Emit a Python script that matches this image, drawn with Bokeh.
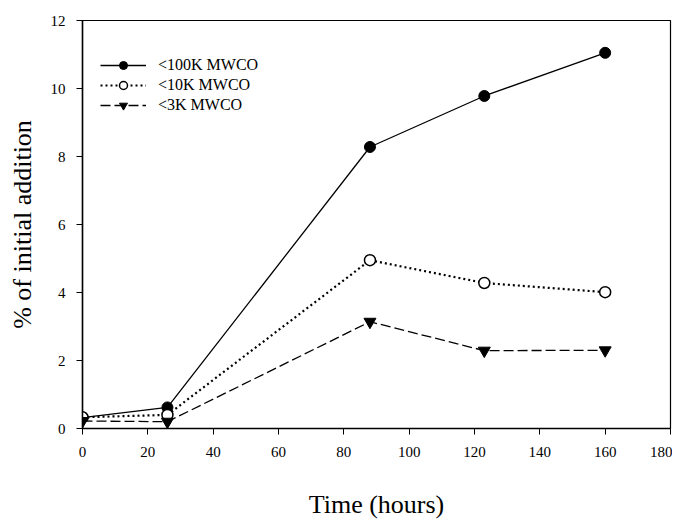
from bokeh.plotting import figure
from bokeh.models import Range1d, Legend, LegendItem, FixedTicker
from bokeh.embed import file_html
from bokeh.resources import INLINE

hours = [0, 26, 88, 123, 160]
mwco_100k = [0.32, 0.62, 8.28, 9.78, 11.05]
mwco_10k = [0.33, 0.40, 4.95, 4.28, 4.01]
mwco_3k = [0.22, 0.20, 3.14, 2.29, 2.30]
x_ticks = [0, 20, 40, 60, 80, 100, 120, 140, 160, 180]
y_ticks = [0, 2, 4, 6, 8, 10, 12]

FONT = "Liberation Serif"

p = figure(width=672, height=523, output_backend="svg", toolbar_location=None,
           x_range=Range1d(0, 180), y_range=Range1d(0, 12),
           min_border_left=82, min_border_right=2, min_border_top=20, min_border_bottom=95)
p.xgrid.visible = False
p.ygrid.visible = False
p.outline_line_color = "black"
p.outline_line_width = 1.2
p.background_fill_color = "white"
p.border_fill_color = "white"

for ax in (p.xaxis[0], p.yaxis[0]):
    ax.major_label_text_font = FONT
    ax.major_label_text_font_size = "15px"
    ax.major_label_text_color = "black"
    ax.axis_line_color = "black"
    ax.axis_line_width = 1.5
    ax.major_tick_line_color = "black"
    ax.major_tick_in = 0
    ax.major_tick_out = 6
    ax.minor_tick_line_color = None
    ax.axis_label_text_font = FONT
    ax.axis_label_text_font_size = "26px"
    ax.axis_label_text_font_style = "normal"
    ax.axis_label_text_color = "black"

p.xaxis.ticker = FixedTicker(ticks=x_ticks)
p.yaxis.ticker = FixedTicker(ticks=y_ticks)
p.xaxis.major_label_standoff = 12
p.yaxis.major_label_standoff = 11
p.yaxis.axis_label = "% of initial addition"
p.yaxis.axis_label_standoff = 11
p.xaxis.axis_label = "Time (hours)"
p.xaxis.axis_label_standoff = 30

l1 = p.line(hours, mwco_100k, line_color="black", line_width=1.3)
m1 = p.scatter(hours, mwco_100k, marker="circle", size=11, fill_color="black", line_color="black")
l2 = p.line(hours, mwco_10k, line_color="black", line_width=2.2, line_dash="2 3")
m2 = p.scatter(hours, mwco_10k, marker="circle", size=11, fill_color="white", line_color="black", line_width=1.5)
l3 = p.line(hours, mwco_3k, line_color="black", line_width=1.3, line_dash="10 4")
m3 = p.scatter(hours, mwco_3k, marker="inverted_triangle", size=12, fill_color="black", line_color="black")

legend = Legend(items=[
    LegendItem(label="<100K MWCO", renderers=[l1, m1]),
    LegendItem(label="<10K MWCO", renderers=[l2, m2]),
    LegendItem(label="<3K MWCO", renderers=[l3, m3]),
], location=(18, 313))
legend.border_line_color = None
legend.background_fill_alpha = 0
legend.padding = 0
legend.margin = 0
legend.spacing = 0
legend.glyph_width = 46
legend.glyph_height = 20
legend.label_height = 20
legend.label_standoff = 12
legend.label_text_font = FONT
legend.label_text_font_size = "16px"
legend.label_text_color = "black"
p.add_layout(legend)

open("out.html", "w").write(file_html(p, INLINE))
